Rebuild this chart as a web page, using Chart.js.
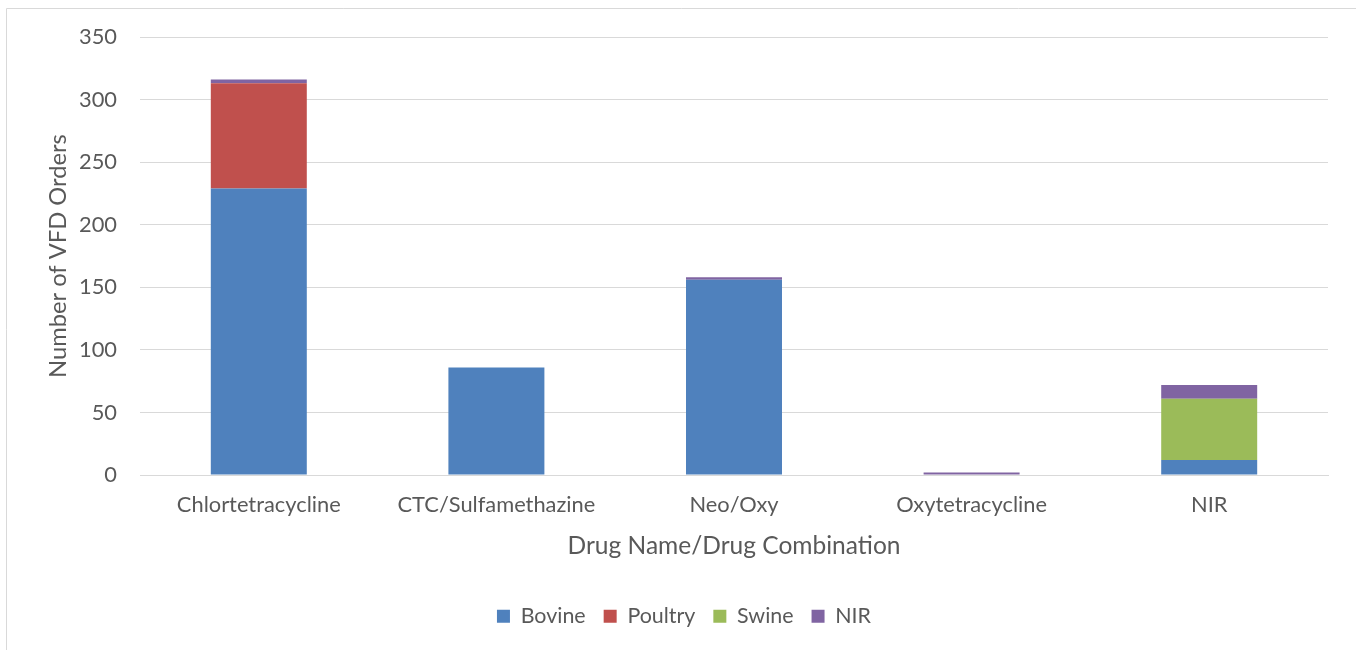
<!DOCTYPE html>
<html>
<head>
<meta charset="utf-8">
<script src="https://cdn.jsdelivr.net/npm/chart.js@4/dist/chart.umd.min.js"></script>
<style>
  html, body { margin: 0; padding: 0; background: #ffffff; }
  #wrap { position: relative; width: 1356px; height: 650px; }
</style>
</head>
<body>
<div id="wrap"><canvas id="chart" width="1356" height="650"></canvas></div>
<script>
// Drug categories and VFD order counts per species
const categories = ['Chlortetracycline', 'CTC/Sulfamethazine', 'Neo/Oxy', 'Oxytetracycline', 'NIR'];
const bovine  = [229, 86, 156, 0, 12];
const poultry = [84, 0, 0, 0, 0];
const swine   = [0, 0, 0, 0, 49];
const nir     = [3, 0, 2, 2, 11];
const yTickMin = 0, yTickMax = 350, yTickStep = 50;

const FAMILY = 'Lato, "Liberation Sans", sans-serif';
const TEXT = '#595959';
const GRID = '#d9d9d9';

// pick font sizes from the width each string should occupy
const mctx = document.createElement('canvas').getContext('2d');
function fitSize(text, width) {
  mctx.font = '100px ' + FAMILY;
  return 100 * width / mctx.measureText(text).width;
}
const tickSize   = fitSize('Chlortetracycline', 164);
const xTitleSize = fitSize('Drug Name/Drug Combination', 333);
const yTitleSize = fitSize('Number of VFD Orders', 244);
const legendSize = fitSize('Poultry', 68);

// light frame around the chart
const framePlugin = {
  id: 'frame',
  beforeDraw(chart) {
    const c = chart.ctx;
    c.save();
    c.strokeStyle = GRID;
    c.lineWidth = 1;
    c.beginPath();
    c.moveTo(6.5, 650);
    c.lineTo(6.5, 8.5);
    c.lineTo(1356, 8.5);
    c.stroke();
    c.restore();
  }
};

new Chart(document.getElementById('chart'), {
  type: 'bar',
  data: {
    labels: categories,
    datasets: [
      { label: 'Bovine',  data: bovine,  backgroundColor: '#4F81BD' },
      { label: 'Poultry', data: poultry, backgroundColor: '#C0504D' },
      { label: 'Swine',   data: swine,   backgroundColor: '#9BBB59' },
      { label: 'NIR',     data: nir,     backgroundColor: '#8064A2' }
    ]
  },
  options: {
    responsive: false,
    animation: false,
    layout: { padding: { left: 40, right: 28, top: 37, bottom: 13 } },
    datasets: { bar: { categoryPercentage: 1, barPercentage: 0.404, borderWidth: 0 } },
    plugins: {
      legend: {
        position: 'bottom',
        labels: {
          boxWidth: 13, boxHeight: 13, padding: 18,
          color: TEXT,
          font: { family: FAMILY, size: legendSize }
        }
      },
      tooltip: { enabled: false }
    },
    scales: {
      x: {
        stacked: true,
        grid: { display: false, drawTicks: false },
        border: { display: true, color: GRID, width: 1 },
        ticks: { color: TEXT, padding: 17, font: { family: FAMILY, size: tickSize }, maxRotation: 0 },
        title: {
          display: true, text: 'Drug Name/Drug Combination', color: TEXT,
          font: { family: FAMILY, size: xTitleSize }, padding: { top: 0, bottom: 27 }
        },
        afterFit(scale) { scale.height = 112.5; }
      },
      y: {
        stacked: true,
        min: yTickMin, max: yTickMax,
        grid: { color: GRID, lineWidth: 1, drawTicks: false },
        border: { display: false },
        ticks: { stepSize: yTickStep, color: TEXT, padding: 23, font: { family: FAMILY, size: tickSize } },
        title: {
          display: true, text: 'Number of VFD Orders', color: TEXT,
          font: { family: FAMILY, size: yTitleSize }, padding: { top: 4, bottom: 0 }
        },
        afterFit(scale) { scale.width = 100; }
      }
    }
  },
  plugins: [framePlugin]
});
</script>
</body>
</html>
